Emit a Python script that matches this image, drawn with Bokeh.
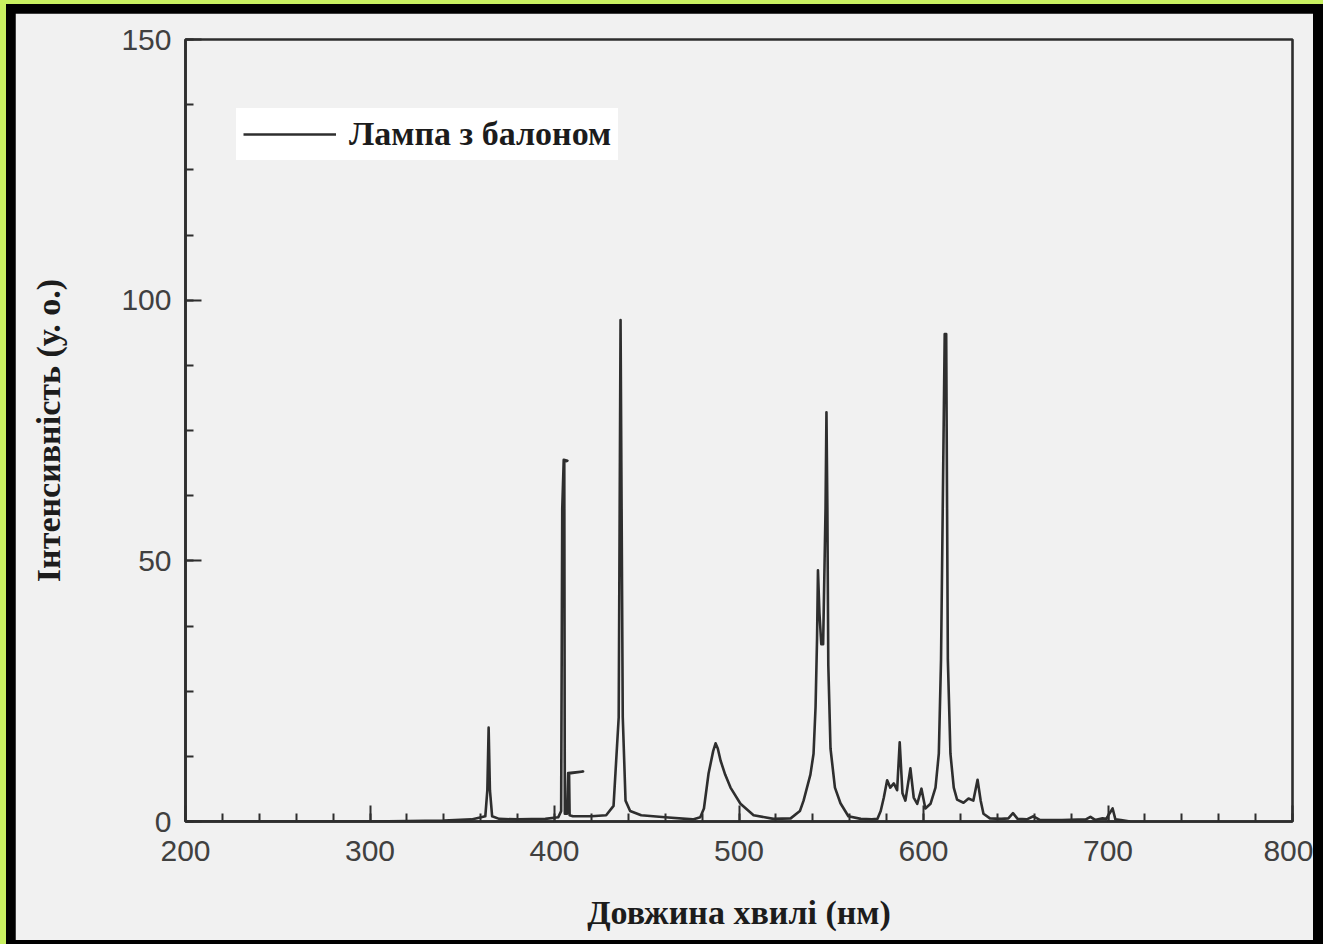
from bokeh.plotting import figure
from bokeh.models import Range1d, FixedTicker, Legend, LegendItem
from bokeh.embed import file_html
from bokeh.resources import INLINE

# Spectrum (wavelength in nm, intensity in a.u.)
wavelength = [200, 300, 340, 355, 362.5, 363.6, 364.3, 365.0, 366.2, 370, 380, 395, 402,
              403.6, 404.2, 405.0, 407.0, 405.3, 405.6, 406.8, 407.4, 415.5, 407.9, 408.2,
              410, 420, 428, 432, 434.8, 435.8, 437.0, 438.5, 441, 447, 460, 475,
              479, 481, 483.5, 486, 487.3, 488.5, 490, 492.5, 495.4, 500.8, 507.9, 518.7,
              528, 533, 535, 538.7, 540.4, 541.5, 542.3, 542.8, 543.6, 544.6, 545.6,
              546.9, 547.4, 547.9, 548.4, 549.6, 552, 555, 559.3, 566, 572,
              575, 576.8, 578.5, 580.3, 582, 583.9, 585.7, 587.1, 588.6, 590.2, 592.9,
              594.7, 596.6, 598.9, 601, 603.8, 606.5, 608.3, 609.5, 611.5, 612.3, 613.2,
              614.6, 616.4, 618.2, 621.7, 624.4, 627, 629.3, 631, 632.5, 636, 642, 646,
              648.5, 651, 656, 659.6, 663, 675, 688, 690.5, 693, 697, 699, 702.5, 704,
              707, 712]
intensity = [0, 0, 0.2, 0.4, 1.0, 6, 18, 6, 1.0, 0.5, 0.4, 0.5, 0.8,
             2, 60, 69.4, 69.2, 69.0, 1.5, 1.5, 9.3, 9.6, 9.2, 1.2,
             1.0, 1.0, 1.2, 3, 20, 96.2, 20, 4, 2, 1.2, 0.8, 0.4,
             0.8, 2.5, 9.2, 13.5, 15, 14, 11.7, 9, 6.5, 3.4, 1.2, 0.5,
             0.6, 2, 4, 9, 13, 22, 35, 48.2, 40, 34, 34,
             60, 78.5, 60, 30, 14, 6.5, 3.5, 1.0, 0.5, 0.4,
             0.5, 2, 4.6, 7.9, 6.5, 7.3, 6, 15.2, 5.4, 4, 10.2,
             4.6, 3.4, 6.3, 2.5, 3.4, 6.5, 13, 31, 93.5, 93.5, 31,
             13, 6.5, 4.2, 3.6, 4.4, 4, 8, 4, 1.5, 0.6, 0.5, 0.6,
             1.6, 0.5, 0.4, 1.0, 0.3, 0.3, 0.4, 0.9, 0.3, 0.6, 0.5, 2.5, 0.4,
             0.3, 0]

x_major = [200, 300, 400, 500, 600, 700, 800]
x_minor = list(range(200, 801, 20))
y_major = [0, 50, 100, 150]
y_minor = [0, 12.5, 25, 37.5, 50, 62.5, 75, 87.5, 100, 112.5, 125, 137.5, 150]

series_name = "Лампа з балоном"
x_title = "Довжина хвилі (нм)"
y_title = "Інтенсивність (у. о.)"

ink = "#2e2e2e"
bg = "#f1f1f1"

p = figure(width=1298, height=927, x_range=Range1d(200, 800), y_range=Range1d(0, 150),
           output_backend="svg", toolbar_location=None,
           min_border_left=170, min_border_right=21, min_border_top=26, min_border_bottom=119,
           background_fill_color=bg, border_fill_color=bg)

r = p.line(wavelength, intensity, line_color=ink, line_width=2.6, line_join="round")

p.xgrid.visible = False
p.ygrid.visible = False
p.outline_line_color = ink
p.outline_line_width = 2.6
p.outline_line_alpha = 1

for ax in (p.xaxis[0], p.yaxis[0]):
    ax.axis_line_color = ink
    ax.axis_line_width = 2.6
    ax.major_tick_line_color = ink
    ax.minor_tick_line_color = ink
    ax.major_tick_line_width = 2
    ax.minor_tick_line_width = 2
    ax.major_tick_in = 16
    ax.major_tick_out = 0
    ax.minor_tick_in = 8
    ax.minor_tick_out = 0
    ax.major_label_text_font = "Liberation Sans"
    ax.major_label_text_font_size = "30px"
    ax.major_label_text_color = "#404040"
    ax.axis_label_text_font = "Liberation Serif"
    ax.axis_label_text_font_style = "bold"
    ax.axis_label_text_font_size = "34px"
    ax.axis_label_text_color = "#1c1c1c"

p.xaxis.ticker = FixedTicker(ticks=x_major, minor_ticks=x_minor)
p.yaxis.ticker = FixedTicker(ticks=y_major, minor_ticks=y_minor)
p.xaxis.major_label_standoff = 19
p.yaxis.major_label_standoff = 14
p.xaxis.axis_label = x_title
p.yaxis.axis_label = y_title
p.xaxis.axis_label_standoff = 30
p.yaxis.axis_label_standoff = 51

legend = Legend(items=[LegendItem(label=series_name, renderers=[r])],
                location=(51, 661), orientation="vertical")
legend.background_fill_color = "white"
legend.background_fill_alpha = 1
legend.border_line_alpha = 0
legend.glyph_width = 93
legend.glyph_height = 30
legend.label_standoff = 13
legend.padding = 7
legend.margin = 0
legend.label_text_font = "Liberation Serif"
legend.label_text_font_style = "bold"
legend.label_text_font_size = "34px"
legend.label_text_color = "#1c1c1c"
p.add_layout(legend)

html = file_html(p, INLINE, title="Спектр")
style = ("<style>html{background:#c8f060 !important;margin:0 !important;padding:0 !important;"
         "overflow:hidden !important;height:auto !important;}"
         "body{margin:4px 0 0 6px !important;padding:9px 10px 4px 9px !important;"
         "background:#000 !important;box-sizing:content-box !important;height:auto !important;"
         "overflow:hidden !important;}</style>")
html = html.replace("</head>", style + "</head>", 1)
open("out.html", "w").write(html)
